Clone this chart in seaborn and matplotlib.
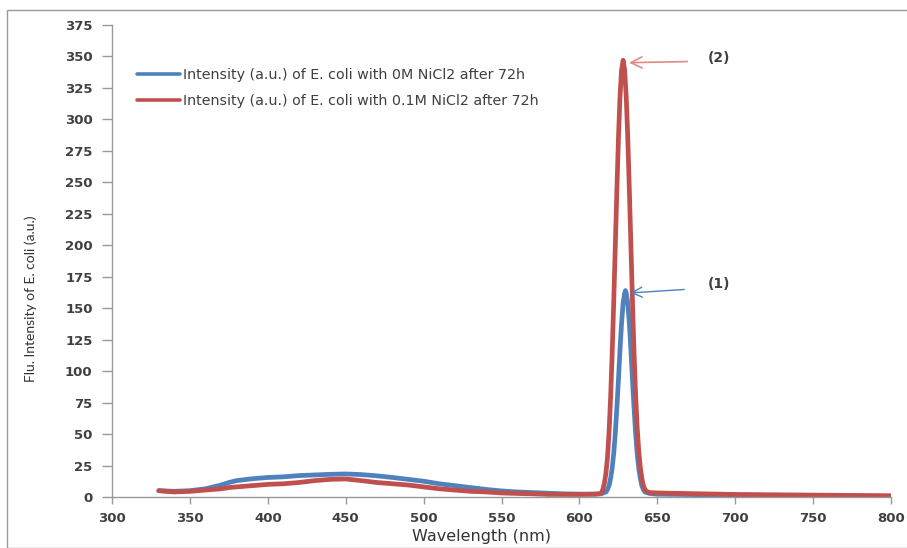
import numpy as np
import pandas as pd
import matplotlib
matplotlib.use("Agg")
import matplotlib.pyplot as plt
import seaborn as sns
from matplotlib.patches import Rectangle

# ---- data ----
wl_blue = [330, 340, 350, 360, 370, 375, 380, 390, 400, 410, 420, 430, 440, 450,
           460, 470, 480, 490, 500, 510, 520, 530, 540, 550, 560, 570, 580, 590,
           600, 610, 614, 617, 618, 619, 620, 621, 622, 623, 624, 625, 626, 627,
           628, 629, 629.5, 630, 631, 632, 633, 634, 635, 636, 637, 638, 639,
           640, 641, 642, 645, 650, 700, 750, 800]
int_blue = [5, 4.5, 5, 6.5, 9.5, 11.5, 13, 14.5, 15.5, 16, 17, 17.5, 18, 18.3,
            17.8, 16.8, 15.5, 14, 12.5, 10.5, 9, 7.5, 6, 4.8, 4, 3.5, 3, 2.5,
            2.3, 2.3, 2.6, 4, 6, 9, 15, 23, 35, 51, 71, 93, 117, 138,
            154, 162, 164, 162, 154, 138, 117, 93, 71, 51, 35, 23, 15,
            9, 6, 4, 2.8, 2.2, 1.5, 1, 0.5]

wl_red = [330, 340, 350, 360, 370, 375, 380, 390, 400, 410, 420, 430, 440, 450,
          460, 470, 480, 490, 500, 510, 520, 530, 540, 550, 560, 570, 580, 590,
          600, 610, 612, 614, 615, 616, 617, 618, 619, 620, 621, 622, 623, 624,
          625, 626, 627, 628, 629, 630, 631, 632, 633, 634, 635, 636, 637, 638,
          639, 640, 641, 642, 643, 645, 650, 700, 750, 800]
int_red = [5, 4, 4.5, 5.5, 6.5, 7.5, 8, 9, 10, 10.5, 11.5, 13, 14, 14.3,
           13, 11.5, 10.5, 9.5, 8, 6.5, 5.5, 4.5, 4, 3.2, 2.8, 2.5, 2, 2,
           2, 2.2, 2.4, 3, 6, 11, 19, 32, 52, 80, 115, 156, 200, 244,
           285, 318, 339, 347, 339, 318, 285, 244, 200, 156, 115, 82, 56, 37,
           24, 15, 9, 6, 4.5, 3.5, 3.2, 2, 1.5, 1]

labels = ["Intensity (a.u.) of E. coli with 0M NiCl2 after 72h",
          "Intensity (a.u.) of E. coli with 0.1M NiCl2 after 72h"]
colors = ["#4F81BD", "#C0504D"]
x_ticks = [300, 350, 400, 450, 500, 550, 600, 650, 700, 750, 800]
y_ticks = [0, 25, 50, 75, 100, 125, 150, 175, 200, 225, 250, 275, 300, 325, 350, 375]

df = pd.concat([
    pd.DataFrame({"wl": wl_blue, "val": int_blue, "series": labels[0]}),
    pd.DataFrame({"wl": wl_red, "val": int_red, "series": labels[1]}),
])

sns.set_theme(style="white")
plt.rcParams["font.family"] = ["DejaVu Sans"]

fig = plt.figure(figsize=(9.07, 5.48), dpi=100)
ax = fig.add_axes([0.1235, 0.0931, 0.859, 0.8613])

sns.lineplot(data=df, x="wl", y="val", hue="series", palette=colors,
             linewidth=3.4, ax=ax, sort=False, estimator=None)

ax.set_xlim(300, 800)
ax.set_ylim(0, 375)
ax.set_xticks(x_ticks)
ax.set_yticks(y_ticks)
ax.tick_params(axis="both", labelsize=9.5, colors="#999999", labelcolor="#404040",
               width=1, direction="out", bottom=True, left=True)
ax.tick_params(axis="y", length=7, pad=7)
ax.tick_params(axis="x", length=5, pad=6)
for lab in ax.get_xticklabels() + ax.get_yticklabels():
    lab.set_fontweight("bold")
for s in ["top", "right"]:
    ax.spines[s].set_visible(False)
for s in ["left", "bottom"]:
    ax.spines[s].set_color("#999999")
    ax.spines[s].set_linewidth(1)

ax.set_xlabel("Wavelength (nm)", fontsize=11.5, color="#333333")
ax.xaxis.set_label_coords(0.474, -0.068)
ax.set_ylabel("Flu. Intensity of E. coli (a.u.)", fontsize=10, color="#333333",
              family=["Lato", "DejaVu Sans"])
ax.yaxis.set_label_coords(-0.096, 0.42)

leg = ax.legend(loc="upper left", bbox_to_anchor=(0.032, 0.909), frameon=False,
                fontsize=10.3, handlelength=3.0, handletextpad=0.2,
                labelspacing=0.85, borderpad=0, borderaxespad=0)
for t in leg.get_texts():
    t.set_color("#404040")
for h in leg.get_lines():
    h.set_linewidth(2.6)

ax.annotate("", xy=(630, 345), xytext=(671, 346),
            arrowprops=dict(arrowstyle="->", color="#E08A88", lw=1.2,
                            mutation_scale=20))
ax.text(682, 348.5, "(2)", fontsize=10, fontweight="bold", color="#404040",
        va="center")
ax.annotate("", xy=(631, 162), xytext=(669, 165),
            arrowprops=dict(arrowstyle="->", color="#4F81BD", lw=1.0,
                            mutation_scale=18))
ax.text(682, 169, "(1)", fontsize=10, fontweight="bold", color="#404040",
        va="center")

fig.patches.append(Rectangle((7 / 907, 0), 1, 1 - 10 / 548, transform=fig.transFigure,
                             fill=False, edgecolor="#999999", linewidth=1))

fig.savefig("out.png", dpi=100)
